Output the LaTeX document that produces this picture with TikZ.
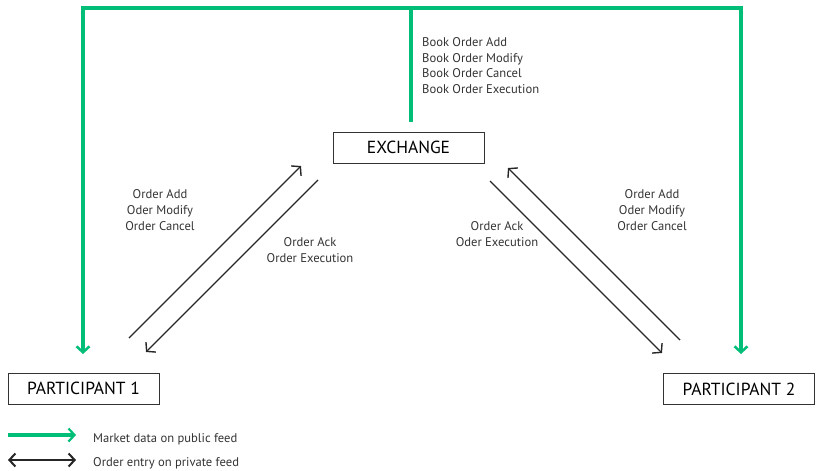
\documentclass[tikz,border=0pt]{standalone}
\usepackage{fontspec}
\setmainfont{PT Sans}
\usetikzlibrary{arrows.meta}
\definecolor{feedgreen}{RGB}{0,190,120}
\begin{document}
\begin{tikzpicture}[x=1pt,y=-1pt,
  box/.style={draw=black!80,line width=0.8pt,minimum width=151pt,minimum height=31pt,font=\fontsize{17.5}{20}\selectfont,inner sep=0pt},
  pub/.style={draw=feedgreen,line width=3.5pt,-{Straight Barb[length=6pt,width=13pt,line width=2.5pt]}},
  priv/.style={draw=black!85,line width=1.4pt,-{Straight Barb[length=6pt,width=14pt,line width=1.4pt]}},
  lbl/.style={font=\fontsize{12.6}{15.7}\selectfont,align=center,text=black!80,inner sep=0pt},
  lbll/.style={lbl,align=left}]
\useasboundingbox (0,0) rectangle (817,471);
% boxes
\node[box] (ex) at (408.5,147.5) {EXCHANGE};
\node[box] (p1) at (83.5,388.5) {PARTICIPANT 1};
\node[box] (p2) at (739,389) {PARTICIPANT 2};
% green public feed
\coordinate (tl) at (83,8);
\coordinate (tr) at (741,8);
\coordinate (tm) at (411,8);
\coordinate (mb) at (411,122);
\coordinate (la) at (83,354);
\coordinate (ra) at (741,354);
\draw[draw=feedgreen,line width=3.5pt] (mb) -- (tm);
\draw[pub] (tm) -- (tl) -- (la);
\draw[pub] (tm) -- (tr) -- (ra);
% private feed arrows
\coordinate (a1s) at (129,338); \coordinate (a1e) at (301,166);
\coordinate (a2s) at (318,180); \coordinate (a2e) at (146,352);
\coordinate (b1s) at (490,181); \coordinate (b1e) at (662,353);
\coordinate (b2s) at (680,340); \coordinate (b2e) at (508,168);
\draw[priv] (a1s) -- (a1e);
\draw[priv] (a2s) -- (a2e);
\draw[priv] (b1s) -- (b1e);
\draw[priv] (b2s) -- (b2e);
% labels
\node[lbll,anchor=west] (book) at (422,65.5) {Book Order Add\\Book Order Modify\\Book Order Cancel\\Book Order Execution};
\node[lbl] (l1) at (160,210) {Order Add\\Oder Modify\\Order Cancel};
\node[lbl] (l2) at (310,250) {Order Ack\\Order Execution};
\node[lbl] (r1) at (497,234) {Order Ack\\Oder Execution};
\node[lbl] (r2) at (652,210) {Order Add\\Oder Modify\\Order Cancel};
% legend
\coordinate (g1) at (8,435); \coordinate (g2) at (76,435);
\coordinate (k1) at (8,460); \coordinate (k2) at (76,460);
\draw[draw=feedgreen,line width=3.5pt,-{Straight Barb[length=6pt,width=13pt,line width=2.2pt]}] (g1) -- (g2);
\draw[draw=black!85,line width=2pt,{Straight Barb[length=6pt,width=13pt,line width=2pt]}-{Straight Barb[length=6pt,width=13pt,line width=2pt]}] (k1) -- (k2);
\node[lbll,anchor=west] (lg1) at (93,439) {Market data on public feed};
\node[lbll,anchor=west] (lg2) at (93,463) {Order entry on private feed};
\end{tikzpicture}
\end{document}
